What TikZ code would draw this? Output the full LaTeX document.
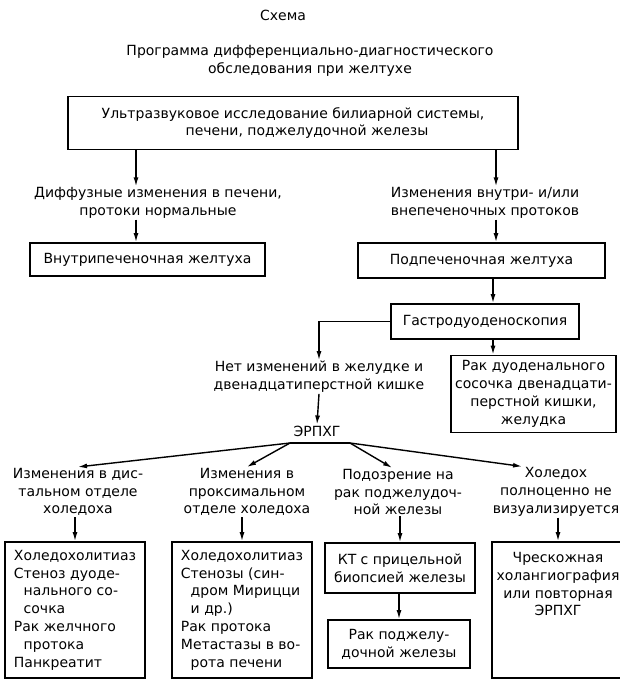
\documentclass[tikz,border=0pt]{standalone}
\usepackage{fontspec}
\setmainfont{DejaVu Sans}
\usepackage{tikz}
\usetikzlibrary{
  calc,%
  arrows.meta,%
  positioning
}
\tikzset{>={Latex[length=9pt,width=5pt]}}
\tikzset{font=\fontsize{14}{17.8}\selectfont}
\tikzset{box/.style={draw, line width=1.8pt, align=center, inner sep=2pt},
  lbl/.style={align=center, inner sep=1pt},
  conn/.style={->, line width=1.4pt}}

\begin{document}
\begin{tikzpicture}[x=1pt, y=-1pt]
  \useasboundingbox (0,0) rectangle (619,692);
  \node[lbl] (scheme) at (283,15) {Схема};
  \node[lbl] (title) at (310,61) {Программа дифференциально-диагностического\\обследования при желтухе};
  \node[box, minimum width=450, minimum height=53] (us) at (293,123) {Ультразвуковое исследование билиарной системы,\\\hspace*{2em}печени, поджелудочной железы};
  % columns of the vertical arrows
  \coordinate (colL) at (136,0);
  \coordinate (colR) at (496,0);
  \coordinate (colG) at (493,0);
  \node[lbl] (diff) at (158,203) {Диффузные изменения в печени,\\протоки нормальные};
  \node[lbl] (vne) at (485,203) {Изменения внутри- и/или\\внепеченочных протоков};
  \node[box, minimum width=235, minimum height=33] (intra) at (147.5,259.5) {Внутрипеченочная желтуха};
  \node[box, minimum width=247, minimum height=35] (sub) at (481.5,260.5) {Подпеченочная желтуха};
  \node[box, minimum width=188, minimum height=35] (gastro) at (485,321.5) {Гастродуоденоскопия};
  \node[lbl] (net) at (319,377) {Нет изменений в желудке и\\двенадцатиперстной кишке};
  \node[box, minimum width=165, minimum height=77] (papilla) at (533.5,394) {Рак дуоденального\\сосочка двенадцати-\\перстной кишки,\\желудка};
  \node[lbl] (ercp) at (317,431) {ЭРПХГ};
  \coordinate (fanL) at (290,443);
  \coordinate (fanR) at (350,443);
  % second level
  \node[lbl] (dist) at (78,492) {Изменения в дис-\\тальном отделе\\холедоха};
  \node[lbl] (prox) at (247,492) {Изменения в\\проксимальном\\отделе холедоха};
  \node[lbl] (panc) at (398,492) {Подозрение на\\рак поджелудоч-\\ной железы};
  \node[lbl] (novis) at (556,492) {Холедох\\полноценно не\\визуализируется};
  \node[box, align=left, minimum width=140, minimum height=136] (distbox) at (75,610) {Холедохолитиаз\\Стеноз дуоде-\\\hspace*{0.7em}нального со-\\\hspace*{0.7em}сочка\\Рак желчного\\\hspace*{0.7em}протока\\Панкреатит};
  \node[box, align=left, minimum width=140, minimum height=136] (proxbox) at (242,610) {Холедохолитиаз\\Стенозы (син-\\\hspace*{0.7em}дром Мирицци\\\hspace*{0.7em}и др.)\\Рак протока\\Метастазы в во-\\\hspace*{0.7em}рота печени};
  \node[box, minimum width=150, minimum height=50] (ct) at (400,568) {КТ с прицельной\\биопсией железы};
  \node[box, minimum width=142, minimum height=48] (cancer) at (399,644) {Рак поджелу-\\дочной железы};
  \node[box, minimum width=132, minimum height=136] (perc) at (558,610) {};
  \node[lbl, anchor=north] (perctext) at ($(perc.north)+(0,10)$) {Чрескожная\\холангиография\\или повторная\\ЭРПХГ};

  \draw[conn] (us.south -| colL) -- (diff.north -| colL);
  \draw[conn] (diff.south -| colL) -- (intra.north -| colL);
  \draw[conn] (us.south -| colR) -- (vne.north -| colR);
  \draw[conn] (vne.south -| colR) -- (sub.north -| colR);
  \draw[conn] (sub.south -| colG) -- (gastro.north -| colG);
  \draw[conn] (gastro.south -| colG) -- (papilla.north -| colG);
  \draw[conn] (gastro.west) -| (net.north);
  \draw[conn] (net.south) -- (ercp.north);
  \draw[line width=1.4pt] (fanL) -- (fanR);
  \draw[conn] (fanL) -- (dist.north);
  \draw[conn] (fanL) -- (prox.north);
  \draw[conn] (fanR) -- ($(panc.north)+(-6,0)$);
  \draw[conn] (fanR) -- ($(novis.north)+(-34,0)$);
  \draw[conn] (dist.south -| distbox.north) -- (distbox.north);
  \draw[conn] (prox.south -| proxbox.north) -- (proxbox.north);
  \draw[conn] (panc.south -| ct.north) -- (ct.north);
  \draw[conn] (ct.south -| cancer.north) -- (cancer.north);
  \draw[conn] (novis.south -| perc.north) -- (perc.north);
\end{tikzpicture}
\end{document}
